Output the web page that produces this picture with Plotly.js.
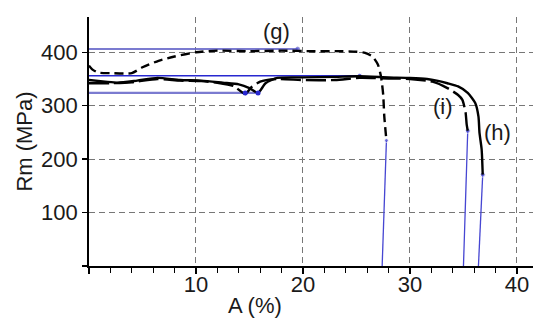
<!DOCTYPE html>
<html>
<head>
<meta charset="utf-8">
<script src="https://cdn.plot.ly/plotly-3.0.1.min.js"></script>
<style>html,body{margin:0;padding:0;background:#fff;}#chart{width:550px;height:331px;}</style>
</head>
<body>
<div id="chart"></div>
<script>
// Curve (g) - short dashed
const gX = [0, 0.3, 0.85, 2, 4, 5, 6.5, 8, 10, 12, 15, 18, 21, 23.6, 25, 25.8, 26.5, 27, 27.3, 27.5, 27.6, 27.8];
const gY = [375, 368, 362, 361, 361, 372, 384, 392, 400, 403, 402, 403, 402, 402, 401, 399, 392, 377, 354, 320, 280, 235];
// Curve (h) - solid
const hX = [0, 1.5, 2.7, 4.5, 6.4, 8.5, 10.5, 12.5, 14, 15, 15.8, 16.5, 17.6, 20, 23, 25.3, 28, 30, 31.6, 32.5, 33.5, 34.5, 35.4, 36.1, 36.4, 36.5, 36.7, 36.8];
const hY = [348, 345, 343, 347, 352, 348, 347, 343, 340, 333, 324, 342, 352, 353, 354, 355, 353, 352, 350, 347, 342, 336, 324, 305, 280, 249, 218, 171];
// Curve (i) - long dashed
const iX = [0, 2, 4, 6.4, 8.5, 10.5, 12, 13.5, 14.6, 15.2, 16, 17.6, 20, 23, 25.3, 28, 30, 32.1, 33.5, 34.5, 34.9, 35.2, 35.3, 35.4];
const iY = [342, 342, 344, 350, 347, 346, 343, 337, 322, 335, 345, 350, 348, 348, 352, 351, 350, 345, 333, 320, 311, 287, 265, 253];
// Blue reference lines
const rmGX = [0, 19.5], rmGY = [406, 406];
const rmHX = [0, 25.3], rmHY = [356, 356];
const reLX = [0, 15.8], reLY = [324, 324];
const fracGX = [27.8, 27.4], fracGY = [235, 0];
const fracIX = [35.4, 35.0], fracIY = [253, 0];
const fracHX = [36.8, 36.4], fracHY = [171, 0];
const dotX = [14.6, 15.8], dotY = [324, 324];
// Labels
const labels = ['(g)', '(i)', '(h)'];
const labelX = [17.5, 33.1, 38.2];
const labelY = [438, 298, 249];
const xTickVals = [0, 10, 20, 30, 40];
const xTickText = ['', '10', '20', '30', '40'];
const yTickVals = [0, 100, 200, 300, 400];
const yTickText = ['', '100', '200', '300', '400'];

const blueLight = 'rgba(100,100,200,0.85)';
const blueDark = '#2828d0';
const blueV = '#4646d2';

const traces = [
  {x: rmGX, y: rmGY, mode: 'lines+markers', line: {color: blueLight, width: 2}, marker: {size: [0, 4], color: blueV}},
  {x: rmHX, y: rmHY, mode: 'lines+markers', line: {color: blueDark, width: 1.6}, marker: {size: [0, 5], color: blueDark}},
  {x: reLX, y: reLY, mode: 'lines', line: {color: blueLight, width: 2.2}},
  {x: fracGX, y: fracGY, mode: 'lines+markers', line: {color: blueV, width: 1.3}, marker: {size: [4, 0], color: blueV}},
  {x: fracIX, y: fracIY, mode: 'lines+markers', line: {color: blueV, width: 1.3}, marker: {size: [5, 0], color: blueV}},
  {x: fracHX, y: fracHY, mode: 'lines+markers', line: {color: blueV, width: 1.3}, marker: {size: [5, 0], color: blueV}},
  {x: gX, y: gY, mode: 'lines', line: {color: '#000', width: 2.4, dash: '9px,5px', shape: 'spline', smoothing: 0.6}},
  {x: iX, y: iY, mode: 'lines', line: {color: '#000', width: 2.4, dash: '20px,5px', shape: 'spline', smoothing: 0.6}},
  {x: hX, y: hY, mode: 'lines', line: {color: '#000', width: 2.4, shape: 'spline', smoothing: 0.6}},
  {x: dotX, y: dotY, mode: 'markers', marker: {size: 5, color: blueDark}}
];

const font = {family: 'Liberation Sans, Arial, sans-serif', size: 22, color: '#1a1a1a'};

const layout = {
  width: 550, height: 331,
  margin: {l: 89, r: 17, t: 17, b: 65},
  paper_bgcolor: '#fff', plot_bgcolor: '#fff',
  showlegend: false,
  font: font,
  xaxis: {
    range: [0, 41.5], tickvals: xTickVals, ticktext: xTickText,
    ticks: 'outside', ticklen: 6, tickwidth: 1.3, tickcolor: '#000',
    ticklabelstandoff: -8,
    minor: {dtick: 2, ticks: 'outside', ticklen: 5, tickwidth: 1.3, tickcolor: '#000', showgrid: false},
    showline: true, linecolor: '#000', linewidth: 1.8,
    showgrid: true, gridcolor: '#777', griddash: '6px,4px', gridwidth: 1,
    zeroline: false, tickfont: font
  },
  yaxis: {
    range: [0, 466], tickvals: yTickVals, ticktext: yTickText,
    ticks: 'outside', ticklen: 5, tickwidth: 1.3, tickcolor: '#000',
    showline: true, linecolor: '#000', linewidth: 1.8,
    showgrid: true, gridcolor: '#777', griddash: '6px,4px', gridwidth: 1,
    zeroline: false, tickfont: font,
    title: {text: 'Rm (MPa)', font: font, standoff: 2}
  },
  annotations: labels.map((t, k) => ({x: labelX[k], y: labelY[k], text: t, showarrow: false, font: font, xref: 'x', yref: 'y'})).concat([
    {xref: 'paper', yref: 'paper', x: 0.374, y: -0.1, yanchor: 'top', text: 'A (%)', showarrow: false, font: font}
  ])
};

Plotly.newPlot('chart', traces, layout, {staticPlot: true, displayModeBar: false});
</script>
</body>
</html>
